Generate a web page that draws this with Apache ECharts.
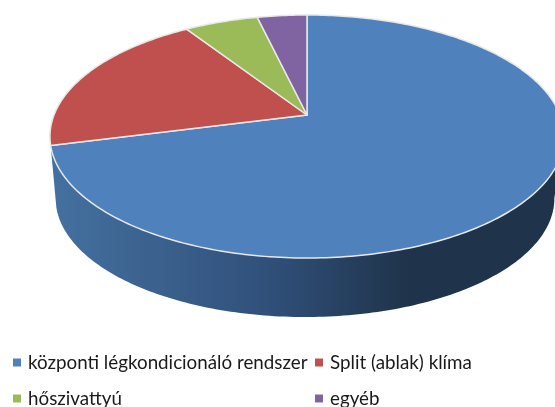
<!DOCTYPE html>
<html>
<head>
<meta charset="utf-8">
<style>
  html, body { margin: 0; padding: 0; background: #fff; }
  #chart { width: 555px; height: 407px; overflow: hidden; }
</style>
<script src="https://cdn.jsdelivr.net/npm/echarts@6/dist/echarts.min.js"></script>
</head>
<body>
<div id="chart"></div>
<script>
const categories = ['központi légkondicionáló rendszer', 'Split (ablak) klíma', 'hőszivattyú', 'egyéb']
const shares = [71, 19.8, 5.5, 3.7]
const colors = ['#4f81bd', '#c0504d', '#9bbb59', '#8064a2']

// perspective of the tilted disc, top face and bottom face
const topFace = { x: 307, y: 115, sx: 1, sy: 1 }
const bottomFace = { x: 305, y: 177.6, sx: 0.97, sy: 0.975 }
const R = 253
const A = 117.7
const K = 0.177
const WALL_FROM = 100 * Math.PI / 180
const total = shares.reduce((a, b) => a + b, 0)

function project (face, theta) {
  const c = Math.cos(theta)
  const d = 1 + K * c
  return [face.x + face.sx * R * Math.sin(theta) / d, face.y - face.sy * A * c / d]
}

function arc (face, from, to) {
  const pts = []
  const n = Math.max(8, Math.ceil(Math.abs(to - from) * 60))
  for (let i = 0; i <= n; i++) {
    pts.push(project(face, from + (to - from) * i / n))
  }
  return pts
}

function angleOf (share) {
  return share / total * Math.PI * 2
}

function renderSlice (index) {
  return function () {
    const start = angleOf(shares.slice(0, index).reduce((a, b) => a + b, 0))
    const end = start + angleOf(shares[index])
    const children = []
    // only the first slice shows its side wall
    if (index === 0) {
      children.push({
        type: 'polygon',
        shape: { points: arc(topFace, WALL_FROM, end).concat(arc(bottomFace, end, WALL_FROM)) },
        style: {
          fill: new echarts.graphic.LinearGradient(55, 0, 410, 0, [
            { offset: 0, color: '#44709f' },
            { offset: 0.6, color: '#30507a' },
            { offset: 1, color: '#1f334a' }
          ], true)
        }
      })
    }
    children.push({
      type: 'polygon',
      shape: { points: [[topFace.x, topFace.y]].concat(arc(topFace, start, end)) },
      style: { fill: colors[index], stroke: '#e8e8e8', lineWidth: 1.5, lineJoin: 'round' }
    })
    return { type: 'group', children: children }
  }
}

const legendText = {
  fontFamily: 'Lato',
  fontSize: 18.8,
  color: '#1a1a1a',
  padding: [0, 0, 0, 2]
}

const myChart = echarts.init(document.getElementById('chart'), null, { renderer: 'canvas' })
myChart.setOption({
  animation: false,
  legend: [
    {
      left: 13, top: 353, height: 80, orient: 'vertical', icon: 'rect',
      itemWidth: 8, itemHeight: 8, itemGap: 17, padding: 0,
      data: [categories[0], categories[2]], textStyle: legendText
    },
    {
      left: 315, top: 353, height: 80, orient: 'vertical', icon: 'rect',
      itemWidth: 8, itemHeight: 8, itemGap: 17, padding: 0,
      data: [categories[1], categories[3]], textStyle: legendText
    }
  ],
  series: categories.map((name, i) => ({
    name: name,
    type: 'custom',
    coordinateSystem: 'none',
    itemStyle: { color: colors[i] },
    renderItem: renderSlice(i),
    data: [[shares[i]]]
  }))
})
</script>
</body>
</html>
